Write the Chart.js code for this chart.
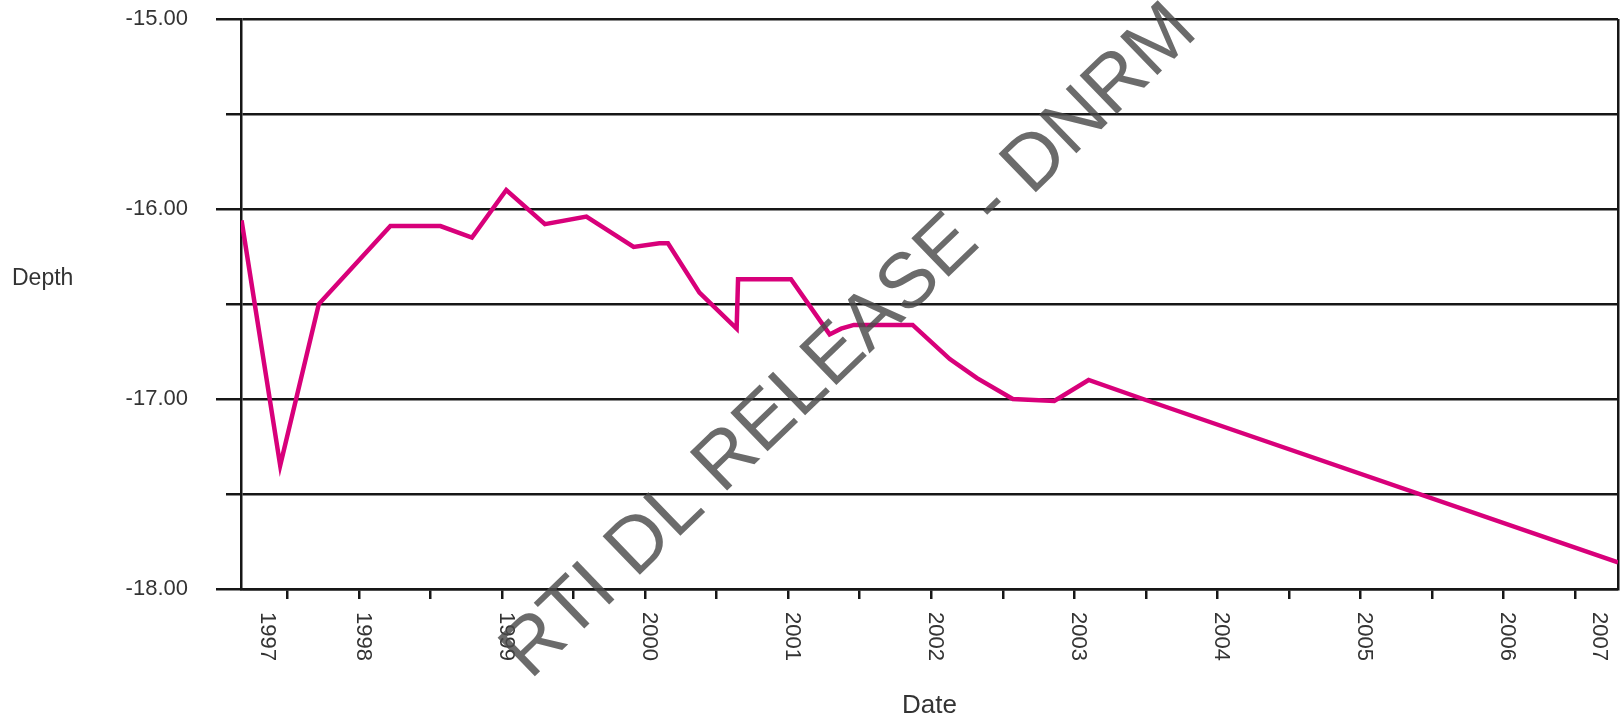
<!DOCTYPE html>
<html>
<head>
<meta charset="utf-8">
<title>Depth</title>
<script src="https://cdn.jsdelivr.net/npm/chart.js@4/dist/chart.umd.min.js"></script>
<style>
html,body{margin:0;padding:0;background:#fff;}
#wrap{width:1623px;height:721px;position:relative;}
</style>
</head>
<body>
<div id="wrap"><canvas id="c"></canvas></div>
<script>
// readings off the bore hydrograph (decimal year / depth)
const dates = [1997.18, 1997.45, 1997.72, 1998.22, 1998.57, 1998.79, 1999.03, 1999.30, 1999.59,
  1999.92, 2000.10, 2000.16, 2000.38, 2000.64, 2000.65, 2001.02, 2001.29, 2001.37, 2001.46,
  2001.87, 2002.13, 2002.32, 2002.57, 2002.86, 2003.10, 2003.48, 2006.80];
const depths = [-16.06, -17.35, -16.50, -16.09, -16.09, -16.15, -15.90, -16.08, -16.04,
  -16.20, -16.18, -16.18, -16.44, -16.63, -16.37, -16.37, -16.66, -16.63, -16.61,
  -16.61, -16.79, -16.89, -17.00, -17.01, -16.90, -17.00, -17.86];

// half year tick marks on the date axis
const dateTicks = [1997.5, 1998, 1998.5, 1999, 1999.5, 2000, 2000.5, 2001, 2001.5, 2002,
  2002.5, 2003, 2003.5, 2004, 2004.5, 2005, 2005.5, 2006, 2006.5];
const yearLabels = ["1997", "1998", "1999", "2000", "2001", "2002", "2003", "2004", "2005", "2006", "2007"];
const yearLabelPos = [1997.33, 1998, 1999, 2000, 2001, 2002, 2003, 2004, 2005, 2006, 2006.64];

const depthTicks = [-18, -17.5, -17, -16.5, -16, -15.5, -15];

const xMin = 1997.176, xMax = 2006.8;
const yMin = -18, yMax = -15;

const FONT = "'Liberation Sans', Arial, sans-serif";
const INK = "#161616";

// year labels read top to bottom, plus the "Depth" label and the stamp
const extraText = {
  id: "extraText",
  afterDraw(chart) {
    const ctx = chart.ctx;
    const xs = chart.scales.x;
    ctx.save();
    ctx.fillStyle = "#333";
    ctx.font = "22px " + FONT;
    ctx.textAlign = "left";
    ctx.textBaseline = "middle";
    yearLabels.forEach((lb, i) => {
      const px = xs.getPixelForValue(yearLabelPos[i]) + 4;
      ctx.save();
      ctx.translate(px, xs.top + 23);
      ctx.rotate(Math.PI / 2);
      ctx.fillText(lb, 0, 0);
      ctx.restore();
    });

    ctx.font = "23px " + FONT;
    ctx.fillText("Depth", 12, 279);

    // release stamp across the plot
    ctx.translate(850, 342);
    ctx.rotate(-44 * Math.PI / 180);
    ctx.font = "78px " + FONT;
    ctx.textAlign = "center";
    ctx.fillStyle = "rgba(75,75,75,0.82)";
    ctx.fillText("RTI DL RELEASE - DNRM", 0, 0);
    ctx.restore();
  }
};

const isHalf = c => c.tick && !Number.isInteger(c.tick.value);

new Chart(document.getElementById("c"), {
  type: "line",
  data: {
    datasets: [{
      label: "Depth",
      data: dates.map((d, i) => ({ x: d, y: depths[i] })),
      borderColor: "#d8007a",
      borderWidth: 4.5,
      pointRadius: 0,
      fill: false,
      tension: 0
    }]
  },
  options: {
    responsive: true,
    maintainAspectRatio: false,
    animation: false,
    layout: { padding: { top: 19, right: 5, left: 0, bottom: 0 } },
    plugins: {
      legend: { display: false },
      tooltip: { enabled: false }
    },
    scales: {
      x: {
        type: "linear",
        min: xMin,
        max: xMax,
        afterBuildTicks: s => { s.ticks = dateTicks.concat([xMax]).map(v => ({ value: v })); },
        afterFit: s => { s.height = 132; },
        ticks: { display: false },
        border: { display: true, color: INK, width: 2.5 },
        grid: {
          drawOnChartArea: true,
          tickLength: 10,
          lineWidth: 2.5,
          color: c => (c.tick && c.tick.value === xMax) ? INK : "rgba(0,0,0,0)",
          tickColor: c => (c.tick && c.tick.value === xMax) ? "rgba(0,0,0,0)" : INK
        },
        title: {
          display: true,
          text: "Date",
          color: "#333",
          font: { family: FONT, size: 26 },
          padding: { top: 0, bottom: 0 }
        }
      },
      y: {
        min: yMin,
        max: yMax,
        afterBuildTicks: s => { s.ticks = depthTicks.map(v => ({ value: v })); },
        afterFit: s => {
          s.width = 241;
          // the tick padding would otherwise push the plot top down
          s.paddingTop = 0;
          s.paddingBottom = 0;
        },
        ticks: {
          autoSkip: false,
          padding: 28,
          color: "#333",
          font: { family: FONT, size: 22 },
          callback: v => Number.isInteger(v) ? v.toFixed(2) : ""
        },
        border: { color: INK, width: 2.5 },
        grid: {
          color: INK,
          lineWidth: 2.5,
          tickLength: 25,
          tickBorderDash: c => isHalf(c) ? [15, 10] : [],
          tickBorderDashOffset: c => isHalf(c) ? 15 : 0
        }
      }
    }
  },
  plugins: [extraText]
});
</script>
</body>
</html>
